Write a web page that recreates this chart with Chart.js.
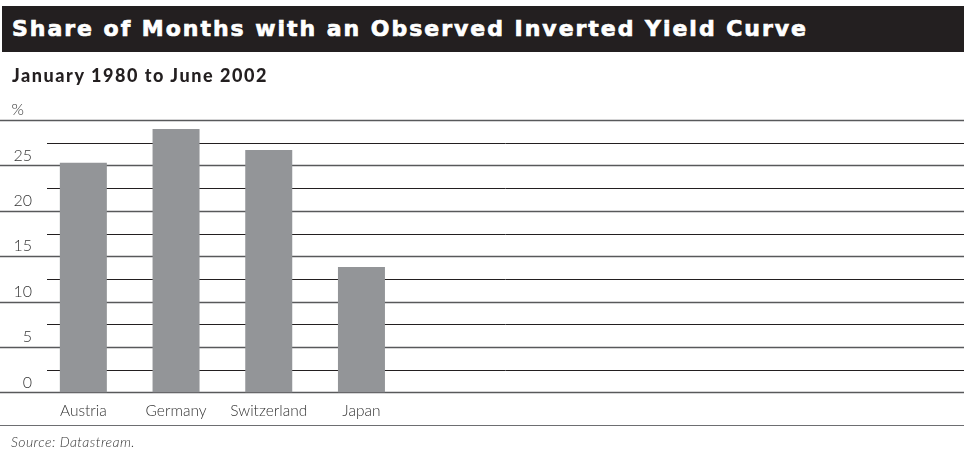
<!DOCTYPE html>
<html>
<head>
<meta charset="utf-8">
<script src="https://cdn.jsdelivr.net/npm/chart.js@4.4.1/dist/chart.umd.min.js"></script>
<style>
  html, body { margin: 0; padding: 0; background: #fff; }
  body { width: 964px; height: 452px; position: relative; overflow: hidden; }
  #titlebar { position: absolute; left: 2px; top: 6px; width: 962px; height: 46px; background: #231f20; }
  .txt { position: absolute; white-space: nowrap; }
  #title { left: 12px; top: 18px; font: bold 22px "DejaVu Sans", sans-serif; line-height: 22px; color: #fff; -webkit-text-stroke: 0.7px #fff; }
  #subtitle { left: 12px; top: 66px; font: 900 18px Lato, sans-serif; line-height: 18px; color: #231f20; }
  #source { left: 11px; top: 435px; font: italic 300 14px Lato, sans-serif; line-height: 14px; color: #333; }
  #sep { position: absolute; left: 0; top: 425px; width: 964px; height: 0; border-top: 1.5px solid #6d6e71; }
  #wrap { position: absolute; left: 0; top: 0; width: 964px; height: 452px; }
</style>
</head>
<body>
<div id="wrap"><canvas id="c" width="964" height="452"></canvas></div>
<div id="titlebar"></div>
<div class="txt" id="title" data-w="796">Share of Months with an Observed Inverted Yield Curve</div>
<div class="txt" id="subtitle" data-w="256">January 1980 to June 2002</div>
<div id="sep"></div>
<div class="txt" id="source" data-w="124">Source: Datastream.</div>
<script>
// ---- data ----
const categories = ['Austria', 'Germany', 'Switzerland', 'Japan'];
const shareInverted = [25.3, 29.0, 26.7, 13.8];
const emptySlots = 6;          // unused category slots to the right
const yTickLabels = { 0: '0', 5: '5', 10: '10', 15: '15', 20: '20', 25: '25', 30: '%\u2002' };

const labels = categories.concat(new Array(emptySlots).fill(''));
const values = shareInverted.concat(new Array(emptySlots).fill(null));

// fit text widths via letter-spacing
function fit(el) {
  const target = parseFloat(el.dataset.w);
  el.style.letterSpacing = '0px';
  const w = el.getBoundingClientRect().width;
  const n = el.textContent.length;
  el.style.letterSpacing = ((target - w) / n) + 'px';
}
document.querySelectorAll('.txt').forEach(fit);

const gridPlugin = {
  id: 'customGrid',
  beforeDatasetsDraw(chart) {
    const y = chart.scales.y, ctx = chart.ctx;
    const right = chart.width;
    ctx.save();
    y.ticks.forEach(t => {
      const py = Math.round(y.getPixelForValue(t.value)) + 0.5;
      const major = t.value % 5 === 0;
      ctx.beginPath();
      ctx.strokeStyle = major ? '#58595b' : '#231f20';
      ctx.lineWidth = major ? 1.5 : 1;
      ctx.moveTo(major ? 0 : 47, py);
      ctx.lineTo(right, py);
      ctx.stroke();
    });
    ctx.restore();
  }
};

new Chart(document.getElementById('c'), {
  type: 'bar',
  data: {
    labels: labels,
    datasets: [{
      data: values,
      backgroundColor: '#939598',
      borderWidth: 0,
      barPercentage: 0.507,
      categoryPercentage: 1.0
    }]
  },
  options: {
    responsive: false,
    animation: false,
    layout: { padding: { top: 120, bottom: 23, left: 0, right: 0 } },
    plugins: { legend: { display: false }, tooltip: { enabled: false }, title: { display: false } },
    scales: {
      x: {
        grid: { display: false, drawTicks: false },
        border: { display: false },
        ticks: {
          autoSkip: false, maxRotation: 0, minRotation: 0, padding: 9,
          color: '#333', font: { family: 'Lato', size: 15.5, weight: '300' }
        }
      },
      y: {
        min: 0, max: 30,
        grid: { display: false, drawTicks: false },
        border: { display: false },
        afterFit(scale) { scale.width = 37; },
        ticks: {
          stepSize: 2.5, autoSkip: false, padding: 5, labelOffset: -10,
          color: '#333', font: { family: 'Lato', size: 16, weight: '300' },
          callback: v => (yTickLabels[v] !== undefined ? yTickLabels[v] : '')
        }
      }
    }
  },
  plugins: [gridPlugin]
});
</script>
</body>
</html>
